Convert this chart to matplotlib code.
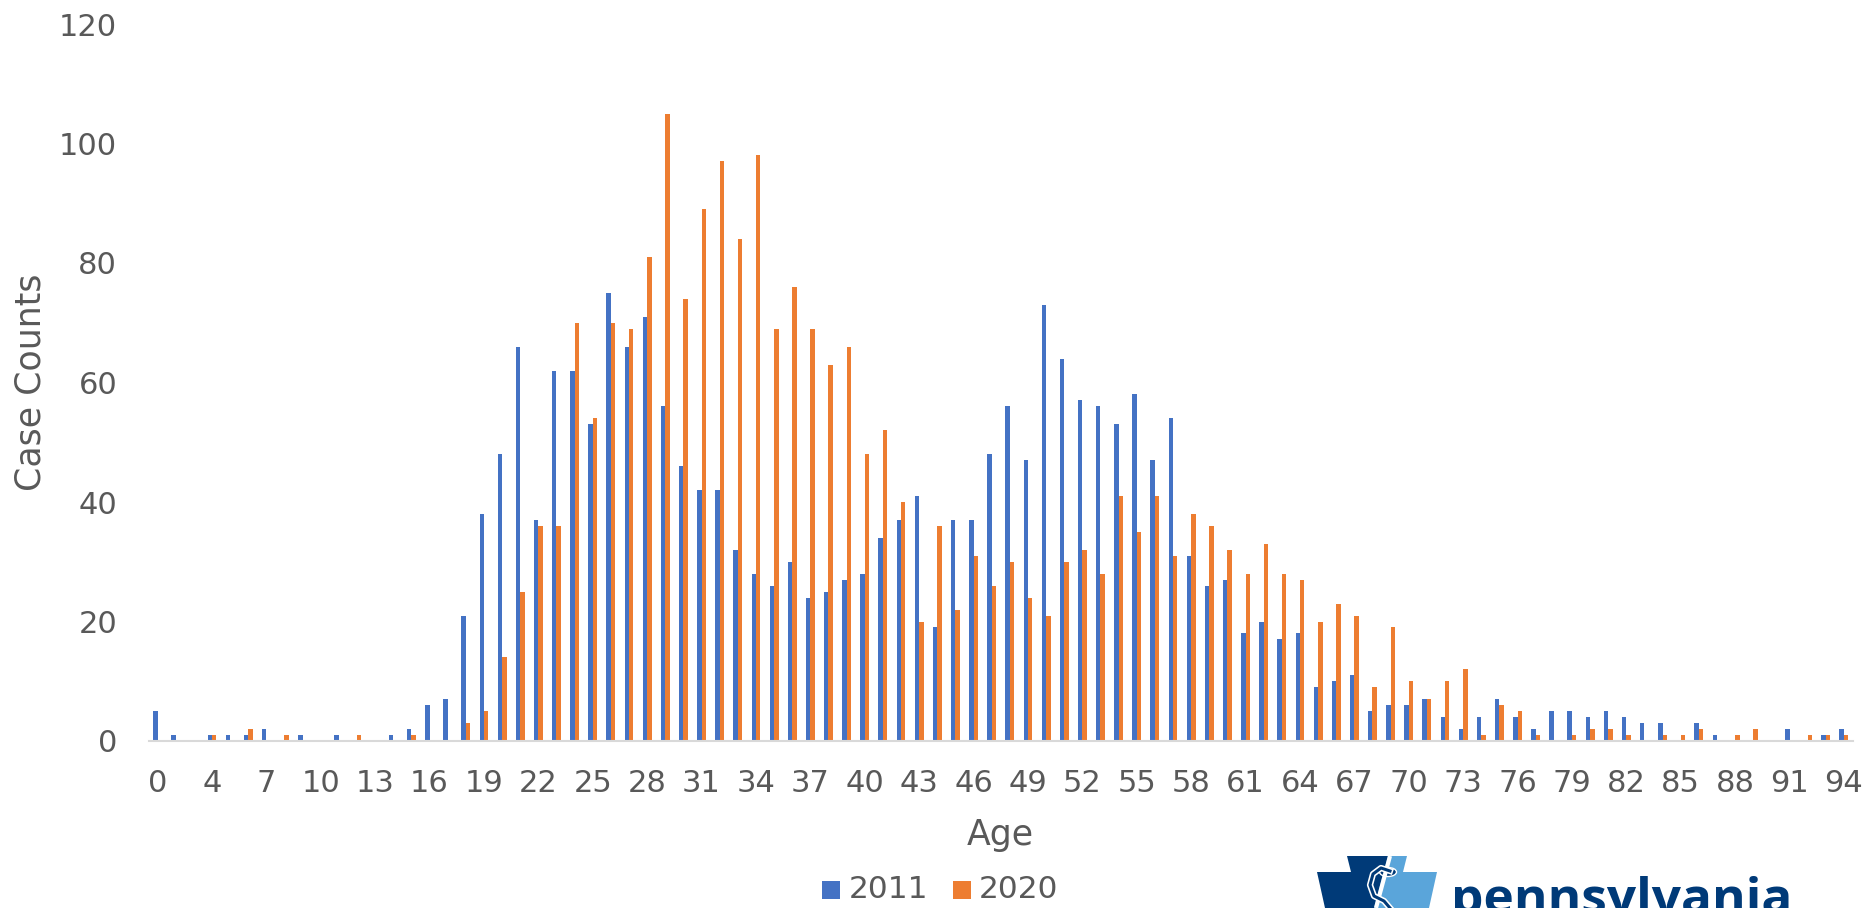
import matplotlib
matplotlib.use('Agg')
import matplotlib.pyplot as plt
from matplotlib.patches import Polygon, Rectangle, Ellipse
import numpy as np

# ages on the category axis (one early age has no row)
ages = [0, 1] + list(range(3, 95))

cases_2011 = [5, 1, 0, 1, 1, 1, 2, 0, 1, 0, 1, 0, 0, 1, 2, 6, 7, 21, 38, 48,
              66, 37, 62, 62, 53, 75, 66, 71, 56, 46, 42, 42, 32, 28, 26, 30, 24, 25, 27, 28,
              34, 37, 41, 19, 37, 37, 48, 56, 47, 73, 64, 57, 56, 53, 58, 47, 54, 31, 26, 27,
              18, 20, 17, 18, 9, 10, 11, 5, 6, 6, 7, 4, 2, 4, 7, 4, 2, 5, 5, 4,
              5, 4, 3, 3, 0, 3, 1, 0, 0, 0, 2, 0, 1, 2]
cases_2020 = [0, 0, 0, 1, 0, 2, 0, 1, 0, 0, 0, 1, 0, 0, 1, 0, 0, 3, 5, 14,
              25, 36, 36, 70, 54, 70, 69, 81, 105, 74, 89, 97, 84, 98, 69, 76, 69, 63, 66, 48,
              52, 40, 20, 36, 22, 31, 26, 30, 24, 21, 30, 32, 28, 41, 35, 41, 31, 38, 36, 32,
              28, 33, 28, 27, 20, 23, 21, 9, 19, 10, 7, 10, 12, 1, 6, 5, 1, 0, 1, 2,
              2, 1, 0, 1, 1, 2, 0, 1, 2, 0, 0, 1, 1, 1]
y_ticks = [0, 20, 40, 60, 80, 100, 120]

W, H = 1865, 908
GREY = '#595959'
BLUE = '#4472C4'
ORANGE = '#ED7D31'
NAVY = '#003A78'
LIGHT = '#5AA5DA'

plt.rcParams['font.family'] = 'DejaVu Sans'

fig = plt.figure(figsize=(W / 100, H / 100), dpi=100)
left, right, top, bottom = 148.5, 1853, 24, 741
ax = fig.add_axes([left / W, 1 - bottom / H, (right - left) / W, (bottom - top) / H])

x = np.arange(len(ages))
bar_w = 0.245
ax.bar(x - bar_w / 2, cases_2011, bar_w, color=BLUE, linewidth=0)
ax.bar(x + bar_w / 2, cases_2020, bar_w, color=ORANGE, linewidth=0)

ax.set_xlim(-0.5, len(ages) - 0.5)
ax.set_ylim(0, 120)
ax.set_yticks(y_ticks)
ax.set_xticks(x[::3])
ax.set_xticklabels([str(a) for a in ages[::3]])
ax.tick_params(axis='both', length=0, labelsize=22, labelcolor=GREY)
ax.tick_params(axis='x', pad=20)
ax.tick_params(axis='y', pad=22.5)
for s in ['top', 'right', 'left']:
    ax.spines[s].set_visible(False)
ax.spines['bottom'].set_color('#D9D9D9')
ax.spines['bottom'].set_linewidth(1.5)

# overlay in pixel coordinates for the legend and the logo
ov = fig.add_axes([0, 0, 1, 1])
ov.set_xlim(0, W)
ov.set_ylim(H, 0)
ov.axis('off')
ov.patch.set_alpha(0)

ov.text(31, 382, 'Case Counts', rotation=90, ha='center', va='center', fontsize=25, color=GREY)
ov.text(1000, 835, 'Age', ha='center', va='center', fontsize=25, color=GREY)

ov.add_patch(Rectangle((822, 881), 18, 18, color=BLUE, lw=0))
ov.text(849, 890, '2011', va='center', fontsize=22.5, color=GREY)
ov.add_patch(Rectangle((953, 881), 18, 18, color=ORANGE, lw=0))
ov.text(979, 890, '2020', va='center', fontsize=22.5, color=GREY)

# keystone logo, cut off by the bottom edge
ov.add_patch(Polygon([(1380, 856), (1407, 856), (1403, 872), (1437, 872), (1429, 908), (1370, 908)],
                     color=LIGHT, lw=0))
ov.add_patch(Polygon([(1347, 856), (1388, 856), (1374, 908), (1325, 908), (1317, 872), (1351, 872)],
                     color=NAVY, lw=0))
ov.plot([1390, 1376], [856, 908], color='white', lw=3, solid_capstyle='butt')
snake_x = [1390, 1381, 1373, 1370, 1374, 1384, 1390]
snake_y = [871, 868, 874, 885, 896, 901, 908]
ov.plot(snake_x, snake_y, color='white', lw=4.5, solid_joinstyle='round')
ov.plot(snake_x, snake_y, color=NAVY, lw=2.2, solid_joinstyle='round')
ov.add_patch(Ellipse((1388, 872), 17, 9, facecolor=NAVY, edgecolor='white', lw=1))
ov.text(1451, 914, 'pennsylvania', va='baseline', ha='left', fontsize=37, fontweight='bold',
        color=NAVY, family='Open Sans')

fig.savefig('out.png', dpi=100)
